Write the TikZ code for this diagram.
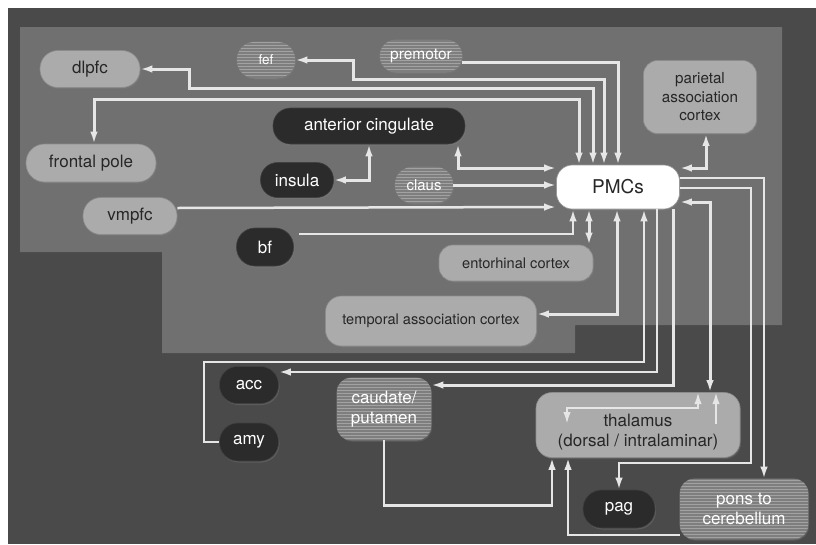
\documentclass[tikz,border=0pt]{standalone}
\usepackage{fontspec}
\setmainfont{TeX Gyre Heros}
\usetikzlibrary{arrows.meta,patterns,shadows}
\definecolor{bgc}{HTML}{4A4A4A}
\definecolor{panelc}{HTML}{707070}
\definecolor{lightc}{HTML}{ABABAB}
\definecolor{darkc}{HTML}{2B2B2B}
\definecolor{stripec}{HTML}{7E7E7E}
\definecolor{stripel}{HTML}{A2A2A2}
\definecolor{linec}{HTML}{E6E6E6}
\begin{document}
\begin{tikzpicture}[x=1pt,y=-1pt,
  >={Latex[length=12pt,width=7.5pt]},
  shad/.style={drop shadow={opacity=0.35, shadow xshift=1pt, shadow yshift=-1.5pt}},
  base/.style={inner sep=0pt, align=center, font=\fontsize{17}{20}\selectfont, shad},
  light/.style={base, fill=lightc, draw=black!45, line width=0.6pt, text=black!85},
  darkn/.style={base, fill=darkc, draw=black!75, line width=0.6pt, text=white},
  striped/.style={base, fill=stripec, draw=black!50, line width=0.6pt, text=white,
    postaction={pattern=horizontal lines, pattern color=stripel}},
  pmcstyle/.style={base, fill=white, draw=black!40, line width=0.6pt, text=black!85,
    font=\fontsize{19}{22}\selectfont},
  conn/.style={draw=linec, line width=3pt},
  one/.style={conn, ->},
  two/.style={conn, <->}
]
\useasboundingbox (0,0) rectangle (816,544);
\fill[white] (0,0) rectangle (816,544);
\fill[bgc] (8,8) rectangle (816,544);
\fill[panelc] (20,27) -- (782,27) -- (782,325) -- (575,325) -- (575,353)
  -- (162,353) -- (162,252) -- (20,252) -- cycle;

% nodes
\node[light, minimum width=100pt, minimum height=37pt, rounded corners=18pt] (dlpfc) at (90,69) {dlpfc};
\node[striped, minimum width=58pt, minimum height=36pt, rounded corners=17.5pt, font=\fontsize{13.5}{16}\selectfont] (fef) at (266,60) {fef};
\node[striped, minimum width=82pt, minimum height=32pt, rounded corners=15.5pt, font=\fontsize{15.5}{18}\selectfont] (premotor) at (421,56) {premotor};
\node[light, minimum width=113pt, minimum height=73pt, rounded corners=14pt, font=\fontsize{15.2}{18.5}\selectfont] (parietal) at (700,97) {parietal\\association\\cortex};
\node[darkn, minimum width=192pt, minimum height=36pt, rounded corners=17.5pt] (antcing) at (369,126) {anterior cingulate};
\node[darkn, minimum width=73pt, minimum height=35pt, rounded corners=17pt] (insula) at (297,180) {insula};
\node[striped, minimum width=58pt, minimum height=36pt, rounded corners=17.5pt, font=\fontsize{15}{18}\selectfont] (claus) at (424,185) {claus};
\node[light, minimum width=130pt, minimum height=38pt, rounded corners=18.5pt] (frontal) at (91,163) {frontal pole};
\node[light, minimum width=94pt, minimum height=37pt, rounded corners=18pt] (vmpfc) at (130,216) {vmpfc};
\node[darkn, minimum width=57pt, minimum height=38pt, rounded corners=18.5pt] (bf) at (265,247) {bf};
\node[pmcstyle, minimum width=123pt, minimum height=44pt, rounded corners=16pt] (PMCs) at (618,187) {PMCs};
\node[light, minimum width=154pt, minimum height=36pt, rounded corners=14pt, font=\fontsize{14.6}{17}\selectfont] (entorhinal) at (516,263) {entorhinal cortex};
\node[light, minimum width=211pt, minimum height=50pt, rounded corners=16pt, font=\fontsize{14.6}{17}\selectfont] (temporal) at (431,321) {temporal association cortex};
\node[darkn, minimum width=59pt, minimum height=37pt, rounded corners=18pt] (acc) at (249,385) {acc};
\node[darkn, minimum width=59pt, minimum height=38pt, rounded corners=18.5pt] (amy) at (249,442) {amy};
\node[striped, minimum width=94pt, minimum height=62pt, rounded corners=14pt] (caudate) at (384,409) {caudate/\\putamen};
\node[light, minimum width=204pt, minimum height=65pt, rounded corners=16pt] (thalamus) at (638,425)
  {\raisebox{-7pt}[\height][\depth]{\begin{tabular}{@{}c@{}}thalamus\\(dorsal / intralaminar)\end{tabular}}};
\node[darkn, minimum width=72pt, minimum height=38pt, rounded corners=18.5pt] (pag) at (619,509) {pag};
\node[striped, minimum width=128pt, minimum height=60pt, rounded corners=14pt] (pons) at (744,509) {pons to\\cerebellum};

% connectors (top bundle)
\draw[one] ([yshift=-6pt]premotor.east) -| (PMCs.north);
\draw[two] (fef.east) -| (353,79) -| ([xshift=-14pt]PMCs.north);
\draw[two] (dlpfc.east) -| (189,88) -| ([xshift=-25pt]PMCs.north);
\draw[two] ([xshift=3pt]frontal.north) |- (579,99) -- ([xshift=-39pt]PMCs.north);
% left side inputs
\draw[two] ([xshift=89pt]antcing.south) |- ([yshift=19pt]PMCs.west);
\draw[two] (antcing.south) |- (insula.east);
\draw[one] (claus.east) -- (PMCs.west |- claus.east);
\draw[one, line width=2.5pt] ([yshift=8pt]vmpfc.east) -- ([yshift=-20pt]PMCs.west);
\draw[one, line width=2.5pt] ([xshift=5pt,yshift=13pt]bf.east) -| ([xshift=-45pt]PMCs.south);
% below PMCs
\draw[two] ([xshift=-29pt]PMCs.south) -- ([xshift=-29pt]PMCs.south |- entorhinal.north);
\draw[two] ([xshift=-1pt]PMCs.south) |- ([yshift=7pt]temporal.east);
\draw[one, line width=2.5pt] (amy.west) -| (204,362) -| ([xshift=26pt]PMCs.south);
\draw[one, line width=2.5pt] ([xshift=39pt]PMCs.south) |- ([yshift=13pt]acc.east);
\draw[one] ([xshift=55pt]PMCs.south) |- ([yshift=24pt]caudate.east);
% right side
\draw[two] ([yshift=19pt]PMCs.east) -| ([xshift=6pt]parietal.south);
\draw[two] ([yshift=-15pt]PMCs.east) -| ([xshift=72pt]thalamus.north);
\draw[one, line width=2.5pt] ([yshift=-1pt]PMCs.east) -| (751,463) -| (pag.north);
\draw[one, line width=2.5pt] ([yshift=9pt]PMCs.east) -| ([xshift=20pt]pons.north);
% into thalamus from below
\draw[one, line width=2.5pt] (caudate.south) -- ++(0,65) -| ([xshift=-86pt]thalamus.south);
\draw[one, line width=2.5pt] ([yshift=-26pt]pons.west) -| ([xshift=-70pt]thalamus.south);
% inside thalamus
\coordinate (tA) at (567,424);
\coordinate (tB) at (698,408);
\coordinate (tC) at (716,424);
\draw[conn, line width=2pt, <->] (tA) |- (tB) -- (tB |- thalamus.north);
\draw[conn, line width=2pt, ->] (tC) -- (tC |- thalamus.north);
\end{tikzpicture}
\end{document}
